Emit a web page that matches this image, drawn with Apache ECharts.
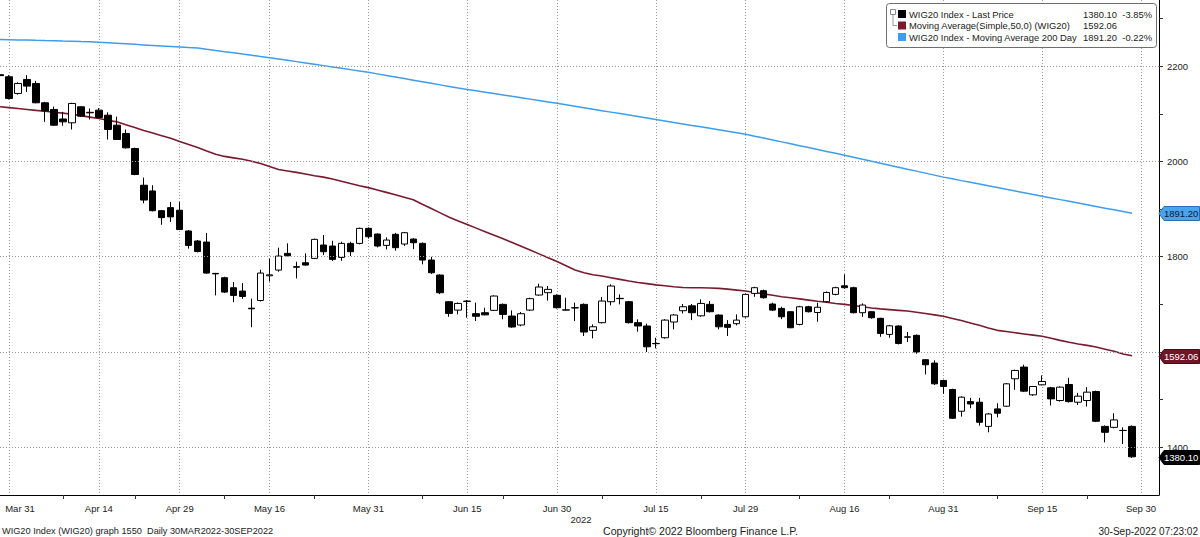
<!DOCTYPE html>
<html>
<head>
<meta charset="utf-8">
<script src="https://cdn.jsdelivr.net/npm/echarts@6.0.0/dist/echarts.min.js"></script>
<style>
html,body{margin:0;padding:0;background:#fff;}
#chart{width:1200px;height:537px;}
</style>
</head>
<body>
<div id="chart"></div>
<script>
// ---- DATA ----
const dates = ['Mar 30','Mar 31','Apr 1','Apr 4','Apr 5','Apr 6','Apr 7','Apr 8','Apr 11','Apr 12','Apr 13','Apr 14','Apr 19','Apr 20','Apr 21','Apr 22','Apr 25','Apr 26','Apr 27','Apr 28','Apr 29','May 2','May 4','May 5','May 6','May 9','May 10','May 11','May 12','May 13','May 16','May 17','May 18','May 19','May 20','May 23','May 24','May 25','May 26','May 27','May 30','May 31','Jun 1','Jun 2','Jun 3','Jun 6','Jun 7','Jun 8','Jun 9','Jun 10','Jun 13','Jun 14','Jun 15','Jun 17','Jun 20','Jun 21','Jun 22','Jun 23','Jun 24','Jun 27','Jun 28','Jun 29','Jun 30','Jul 1','Jul 4','Jul 5','Jul 6','Jul 7','Jul 8','Jul 11','Jul 12','Jul 13','Jul 14','Jul 15','Jul 18','Jul 19','Jul 20','Jul 21','Jul 22','Jul 25','Jul 26','Jul 27','Jul 28','Jul 29','Aug 1','Aug 2','Aug 3','Aug 4','Aug 5','Aug 8','Aug 9','Aug 10','Aug 11','Aug 12','Aug 16','Aug 17','Aug 18','Aug 19','Aug 22','Aug 23','Aug 24','Aug 25','Aug 26','Aug 29','Aug 30','Aug 31','Sep 1','Sep 2','Sep 5','Sep 6','Sep 7','Sep 8','Sep 9','Sep 12','Sep 13','Sep 14','Sep 15','Sep 16','Sep 19','Sep 20','Sep 21','Sep 22','Sep 23','Sep 26','Sep 27','Sep 28','Sep 29','Sep 30'];
const padCategories = [' ', '  '];
const tickLabels = ['Mar 31','Apr 14','Apr 29','May 16','May 31','Jun 15','Jun 30','Jul 15','Jul 29','Aug 16','Aug 31','Sep 15','Sep 30'];
const minorTickDates = ['Apr 8','Apr 22','May 9','May 23','Jun 8','Jun 22','Jul 7','Jul 22','Aug 8','Aug 23','Sep 8','Sep 22'];
const yGridValues = [1400, 1600, 1800, 2000, 2200];

// [open, high, low, close]
const ohlc = [
[2182,2190,2172,2180],[2177.6,2181,2130,2132],[2142.6,2166,2140,2163.6],[2172,2181,2146,2158],[2163.6,2169,2122,2123],
[2123,2125,2083,2106],[2109,2115,2075,2076],[2089,2104,2075,2083],[2081,2123,2067,2121.6],[2114.6,2116,2093,2095],
[2103,2111,2088,2102],[2107.6,2112,2090,2092],[2097,2103,2046,2067],[2076,2094,2045,2046],[2058.6,2067,2027,2028.5],
[2027,2029,1971,1972.5],[1950,1966,1912,1918.9],[1938,1950,1895,1896.6],[1896.6,1898,1867,1882],[1903,1915,1873,1883.6],
[1897.6,1915,1856,1857],[1854,1856,1817,1823.8],[1833,1835,1809,1811],[1830.8,1849.7,1764,1765.7],[1765,1766,1718.8,1764],
[1755.9,1758,1724,1725.8],[1734.9,1746.8,1704.6,1718.8],[1727.9,1744.7,1711.8,1716.6],[1692,1712,1652,1690.7],[1708.2,1772.7,1706,1765.7],
[1760,1796,1748,1762],[1772,1819,1768.5,1801.4],[1807,1828,1801,1802],[1779,1789.5,1754.5,1778],[1787.4,1807,1781,1782.5],
[1796.5,1838,1795,1836.4],[1824.5,1845.5,1803.5,1810.5],[1822.4,1833.6,1791,1794.4],[1798.6,1831.5,1791.6,1828],[1828,1831.5,1801.4,1810.5],
[1828,1861,1826,1859.5],[1859.5,1861.6,1838,1842],[1847.6,1849,1819.6,1822.4],[1823.8,1840.6,1815.4,1835],[1847,1850,1812.6,1819],
[1826.6,1852,1822.4,1850.4],[1837,1839,1816,1829.4],[1828,1830,1784,1793],[1793,1800,1764,1766.4],[1761.5,1763,1721.6,1724.4],
[1705.6,1707,1674,1681],[1688,1704,1679,1702],[1706,1709,1672,1707],[1680.5,1703.6,1665,1675],[1682.5,1693,1677,1678],
[1687.5,1719,1686,1717.5],[1700,1702,1668.6,1679],[1675.5,1687.4,1651,1652.5],[1656.7,1684,1654,1680.4],[1688,1714,1686,1712],
[1719.6,1743.4,1718,1736.4],[1724.5,1738.5,1708,1731.5],[1719,1721,1691,1693],[1688,1714,1687,1688.5],[1693,1703.6,1665,1692.5],
[1700,1702,1633.6,1642],[1645.5,1658,1628.7,1653],[1661.6,1715.5,1660,1707],[1705.6,1742,1698,1738.5],[1712.6,1721,1700,1712],
[1705.6,1707,1660,1661.6],[1661.6,1668.6,1642.7,1654.6],[1654.6,1659.5,1600,1611],[1618,1630,1607.7,1617.5],[1630,1669,1628,1667],
[1663,1680,1647.6,1677.7],[1686.7,1700.7,1681,1695],[1697,1700.7,1667,1682.5],[1676,1710.5,1674,1702],[1700,1707,1683,1684.6],
[1677.6,1679,1647.6,1653],[1658,1667,1633.6,1651.8],[1659.5,1679,1656,1667],[1674,1723,1672,1721],[1723,1737,1716,1735],
[1728.7,1731,1712,1714],[1700.7,1703.5,1686,1688],[1691.6,1695,1669,1674],[1684.6,1686,1650,1651],[1658,1697,1656,1695],
[1695,1697,1683,1684.6],[1683,1703.5,1663.7,1694],[1705.6,1727,1703,1725],[1721,1737,1719,1735],[1739,1763,1733,1735],
[1735,1737,1681,1682.5],[1682.5,1702,1674,1698.6],[1684.6,1686,1670,1672],[1670.7,1672,1632,1639],[1637,1657,1630,1655],
[1654.6,1656,1616,1618],[1631,1642,1621,1632],[1635,1637,1596.5,1600],[1583.9,1585,1553,1573.3],[1576.8,1582.5,1531,1533.3],
[1540.3,1542,1512.3,1527.7],[1521.4,1523,1460,1461],[1475.8,1507,1464.5,1505.3],[1496,1503.8,1482,1491],[1494.7,1503.8,1445.6,1452.6],
[1444,1472,1431.6,1470],[1480.7,1492.6,1463,1471.6],[1486.3,1535,1485,1533.3],[1543.9,1563,1520.7,1561.4],[1568.4,1573.3,1516,1517.9],
[1510.2,1529,1508,1527.7],[1531.2,1550.9,1530,1538.2],[1524.9,1527,1487.7,1501.7],[1498.2,1528,1496,1526.3],[1531.9,1546,1494,1496],
[1494.7,1514.4,1489,1507.4],[1498.2,1526.3,1485.6,1515.8],[1517.2,1519,1453,1454.7],[1444,1446,1410.5,1431.6],[1442,1471.6,1440,1457.5],
[1435.5,1442,1407,1435.4],[1444,1446,1378,1380.1]
];

const ma50 = [2114.6,2112.8,2110.9,2109,2107,2105.2,2103.3,2101.3,2099,2096,2093,2090,2086.5,2083,2077,2071,2065,2059.5,2054,2048.5,
2042,2035.5,2029.4,2022,2015,2010.5,2007.5,2004.5,2000.5,1995.5,1989.5,1983,1980,1977,1973.5,1970,1967,1963,1958.5,1953.5,
1949,1945,1940,1935,1930,1925,1919.5,1910,1901,1892,1883,1875,1867.5,1860,1852.5,1845,1837.5,1830,1822,1814,
1806,1798,1790,1781,1772,1766.5,1762,1759.5,1756,1752.5,1749,1746,1743.5,1741,1739,1737,1735.5,1735,1735,1734.5,
1733.5,1732,1730,1728,1725,1722,1719,1716,1714,1711.5,1709,1706.5,1704.5,1702,1700,1697.5,1695,1692.5,1690.5,1689,
1687.5,1686,1683.5,1681,1678,1675,1670.5,1666,1661,1656,1650.5,1645.5,1643,1640.5,1638,1635.5,1633,1629,1624.5,1620.5,
1617,1614,1610.5,1606,1601.5,1596,1592.06];

const ma200 = [2256,2255.5,2255,2254.6,2254,2253.5,2253.1,2252.5,2252,2251.4,2251,2250,2248.9,2247.8,2246.7,2245.6,2244.5,2243.4,2242.3,2241.2,
2240.1,2239,2238,2235.4,2232.9,2230.3,2227.8,2225.2,2222.7,2220.1,2217.6,2215,2212.2,2209.4,2206.6,2203.8,2201,2198.2,2195.4,2192.6,
2189.8,2187,2183.7,2180.4,2177.1,2173.8,2170.5,2167.2,2163.9,2160.6,2157.3,2154,2151.1,2148.2,2145.3,2142.4,2139.5,2136.5,2133.6,2130.7,
2127.8,2124.9,2122,2118.9,2115.8,2112.7,2109.6,2106.5,2103.4,2100.3,2097.2,2094.1,2091,2087.9,2084.8,2081.7,2078.6,2075.5,2072.5,2069.4,
2066.3,2063.2,2060.1,2057,2053,2049,2045,2041,2037,2033,2029,2025,2021,2017,2013,2008.8,2004.6,2000.5,1996.3,1992.1,
1987.9,1983.7,1979.6,1975.4,1971.2,1967,1963.4,1959.7,1956.1,1952.5,1948.8,1945.2,1941.5,1937.9,1934.3,1930.6,1927,1923.4,1919.8,1916.3,
1912.7,1909.1,1905.5,1901.9,1898.4,1894.8,1891.2];

const lastPrice = 1380.10, lastPriceChg = '-3.85%';
const lastMa50 = 1592.06;
const lastMa200 = 1891.20, lastMa200Chg = '-0.22%';

// ---- CHART ----
const FONT = 'Liberation Sans';
const TXT = '#222';
const GRIDC = '#9a9a9a';
const MA50C = '#7a1a2e';
const MA200C = '#3d9ded';
const categories = dates.concat(padCategories);
const candleData = ohlc.map(r => [r[0], r[3], r[2], r[1]]);
const tagValues = [lastPrice, lastMa50, lastMa200];

const chart = echarts.init(document.getElementById('chart'), null, {renderer: 'svg'});

const option = {
  animation: false,
  backgroundColor: '#fff',
  grid: {left: 0, right: 41, top: 0, bottom: 42, containLabel: false},
  xAxis: {
    type: 'category',
    data: categories,
    boundaryGap: false,
    axisLine: {show: true, lineStyle: {color: '#000', width: 1}},
    axisTick: {show: true, length: 4, inside: false, lineStyle: {color: '#333'},
      interval: (i, v) => minorTickDates.indexOf(v) >= 0},
    axisLabel: {
      show: true, margin: 8, fontFamily: FONT, fontSize: 9.5, color: TXT,
      interval: (i, v) => tickLabels.indexOf(v) >= 0,
      formatter: v => v === 'Mar 31' ? '{p|' + v + '}' : v,
      rich: {p: {padding: [0, 0, 0, 22], fontFamily: FONT, fontSize: 9.5, color: TXT}}
    },
    splitLine: {show: true, interval: (i, v) => tickLabels.indexOf(v) >= 0,
      lineStyle: {color: GRIDC, type: [1, 2], width: 1}}
  },
  yAxis: {
    type: 'value',
    position: 'right',
    min: 1300, max: 2338.7, interval: 100,
    axisLine: {show: true, lineStyle: {color: '#000', width: 1}},
    axisTick: {show: true, length: 4, lineStyle: {color: '#333'}},
    axisLabel: {show: true, margin: 8, fontFamily: FONT, fontSize: 9.5, color: TXT,
      showMaxLabel: false, showMinLabel: false,
      // labels hidden behind a last-value tag are not drawn
      formatter: v => (yGridValues.indexOf(v) >= 0 && !tagValues.some(t => Math.abs(t - v) < 12) ? String(v) : '')},
    splitLine: {show: false}
  },
  series: [
    {
      type: 'line', name: 'WIG20 Index - Moving Average 200 Day', data: ma200,
      symbol: 'none', lineStyle: {color: MA200C, width: 1.5}, z: 2,
      markLine: {
        silent: true, symbol: 'none', label: {show: false},
        lineStyle: {color: GRIDC, type: [1, 2], width: 1},
        data: yGridValues.map(v => ({yAxis: v}))
      }
    },
    {
      type: 'line', name: 'Moving Average(Simple,50,0) (WIG20)', data: ma50,
      symbol: 'none', lineStyle: {color: MA50C, width: 1.6}, z: 2
    },
    {
      type: 'candlestick', name: 'WIG20 Index - Last Price', data: candleData,
      barWidth: 7, z: 3,
      itemStyle: {color: '#fff', color0: '#000', borderColor: '#000', borderColor0: '#000',
        borderColorDoji: '#000', borderWidth: 1}
    }
  ]
};
chart.setOption(option);

function tag(id, value, label, fill, stroke, textColor) {
  const y = Math.round(chart.convertToPixel({yAxisIndex: 0}, value)) + 0.5;
  const x0 = 1159;
  return [
    {type: 'polygon', id: id + 'p', z: 100,
     shape: {points: [[x0, y], [x0 + 5, y - 7], [1199.5, y - 7], [1199.5, y + 7], [x0 + 5, y + 7]]},
     style: {fill: fill, stroke: stroke, lineWidth: 1}},
    {type: 'text', id: id + 't', z: 101, x: 1164, y: y,
     style: {text: label, fill: textColor, font: '9.5px "' + FONT + '"', verticalAlign: 'middle', align: 'left'}}
  ];
}

const lx = 886, ly = 3;
const rowY = [14, 25.5, 37];
const legendFont = '9.4px "' + FONT + '"';
const graphics = [
  {type: 'rect', id: 'lgbox', z: 90, shape: {x: lx + 0.5, y: ly + 0.5, width: 270, height: 44, r: 3},
   style: {fill: '#fff', stroke: '#6e6e6e', lineWidth: 1}},
  {type: 'rect', id: 'lgicon', z: 91, shape: {x: 890.5, y: 9.5, width: 5, height: 5},
   style: {fill: '#fff', stroke: '#888', lineWidth: 1}},
  {type: 'polyline', id: 'lgtree', z: 91, shape: {points: [[893, 15], [893, 25.5], [897, 25.5]]},
   style: {stroke: '#999', lineWidth: 1, fill: null}},
  {type: 'rect', id: 'sw1', z: 91, shape: {x: 898, y: rowY[0] - 4, width: 8, height: 8}, style: {fill: '#000'}},
  {type: 'rect', id: 'sw2', z: 91, shape: {x: 898, y: rowY[1] - 4, width: 8, height: 8}, style: {fill: MA50C}},
  {type: 'rect', id: 'sw3', z: 91, shape: {x: 898, y: rowY[2] - 4, width: 8, height: 8}, style: {fill: MA200C}},
  {type: 'text', id: 'lt1', z: 92, x: 909, y: rowY[0], style: {text: 'WIG20 Index - Last Price', font: legendFont, fill: TXT, verticalAlign: 'middle'}},
  {type: 'text', id: 'lt2', z: 92, x: 909, y: rowY[1], style: {text: 'Moving Average(Simple,50,0) (WIG20)', font: legendFont, fill: TXT, verticalAlign: 'middle'}},
  {type: 'text', id: 'lt3', z: 92, x: 909, y: rowY[2], style: {text: 'WIG20 Index - Moving Average 200 Day', font: legendFont, fill: TXT, verticalAlign: 'middle'}},
  {type: 'text', id: 'lv1', z: 92, x: 1117, y: rowY[0], style: {text: lastPrice.toFixed(2), font: legendFont, fill: TXT, verticalAlign: 'middle', align: 'right'}},
  {type: 'text', id: 'lv2', z: 92, x: 1117, y: rowY[1], style: {text: lastMa50.toFixed(2), font: legendFont, fill: TXT, verticalAlign: 'middle', align: 'right'}},
  {type: 'text', id: 'lv3', z: 92, x: 1117, y: rowY[2], style: {text: lastMa200.toFixed(2), font: legendFont, fill: TXT, verticalAlign: 'middle', align: 'right'}},
  {type: 'text', id: 'lc1', z: 92, x: 1152, y: rowY[0], style: {text: lastPriceChg, font: legendFont, fill: TXT, verticalAlign: 'middle', align: 'right'}},
  {type: 'text', id: 'lc3', z: 92, x: 1152, y: rowY[2], style: {text: lastMa200Chg, font: legendFont, fill: TXT, verticalAlign: 'middle', align: 'right'}},
  {type: 'text', id: 'yr', z: 92, x: 581, y: 519, style: {text: '2022', font: '9.5px "' + FONT + '"', fill: TXT, verticalAlign: 'middle', align: 'center'}},
  {type: 'text', id: 'f1', z: 92, x: 2, y: 531, style: {text: 'WIG20 Index (WIG20) graph 1550  Daily 30MAR2022-30SEP2022', font: '9.2px "' + FONT + '"', fill: TXT, verticalAlign: 'middle', align: 'left'}},
  {type: 'text', id: 'f2', z: 92, x: 603, y: 531, style: {text: 'Copyright\u00A9 2022 Bloomberg Finance L.P.', font: '10.6px "' + FONT + '"', fill: TXT, verticalAlign: 'middle', align: 'left'}},
  {type: 'text', id: 'f3', z: 92, x: 1198, y: 531, style: {text: '30-Sep-2022 07:23:02', font: '10px "' + FONT + '"', fill: TXT, verticalAlign: 'middle', align: 'right'}}
].concat(
  tag('tg200', lastMa200, lastMa200.toFixed(2), '#4aa3ee', '#2a6fb0', '#0b1a33'),
  tag('tg50', lastMa50, lastMa50.toFixed(2), '#6e1526', '#4a0d19', '#fff'),
  tag('tgpx', lastPrice, lastPrice.toFixed(2), '#000', '#000', '#fff')
);
chart.setOption({graphic: graphics});
</script>
</body>
</html>
